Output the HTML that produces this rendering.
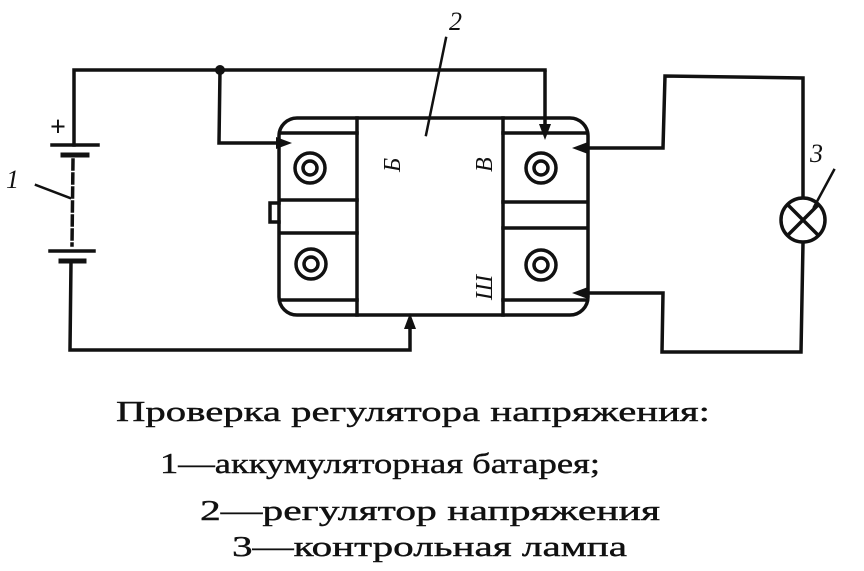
<!DOCTYPE html>
<html><head><meta charset="utf-8"><style>body{margin:0;background:#fff}svg{display:block}</style></head><body>
<svg width="864" height="571" viewBox="0 0 864 571" xmlns="http://www.w3.org/2000/svg">
<g fill="none" stroke="#111" stroke-width="3.5" stroke-linecap="square">
<polyline points="545,70 74,70 74,145"/>
<line x1="52" y1="145" x2="98" y2="145"/>
<line x1="63" y1="155" x2="87" y2="155" stroke-width="5"/>
<line x1="73" y1="160" x2="72" y2="245" stroke-dasharray="9,5"/>
<line x1="50" y1="251" x2="94" y2="251"/>
<line x1="61" y1="261" x2="84" y2="261" stroke-width="5"/>
<polyline points="71,262 70,350 410,350 410,325"/>
<polyline points="220,70 219,143 280,143"/>
<line x1="545" y1="72" x2="545" y2="128"/>
<polyline points="590,148 663,148 665,76 803,78 803,197"/>
<polyline points="803,243 801,352 662,352 663,293 590,293"/>
<circle cx="803" cy="220" r="22"/>
<line x1="788" y1="205" x2="818" y2="235"/>
<line x1="818" y1="205" x2="788" y2="235"/>
<line x1="814" y1="207" x2="834" y2="170" stroke-width="2.5"/>
<line x1="36" y1="185" x2="70" y2="198" stroke-width="2.5"/>
<line x1="446" y1="38" x2="426" y2="135" stroke-width="2.5"/>
<rect x="279" y="118" width="309" height="197" rx="18"/>
<line x1="357" y1="118" x2="357" y2="315"/>
<line x1="503" y1="118" x2="503" y2="315"/>
<line x1="281" y1="133" x2="357" y2="133"/>
<line x1="281" y1="200" x2="357" y2="200"/>
<line x1="281" y1="233" x2="357" y2="233"/>
<line x1="281" y1="300" x2="357" y2="300"/>
<line x1="503" y1="133" x2="586" y2="133"/>
<line x1="503" y1="202" x2="586" y2="202"/>
<line x1="503" y1="228" x2="586" y2="228"/>
<line x1="503" y1="300" x2="586" y2="300"/>
<path d="M279,203 H270 V222 H279"/>
<circle cx="310" cy="168" r="15"/><circle cx="310" cy="168" r="7"/>
<circle cx="311" cy="264" r="15"/><circle cx="311" cy="264" r="7"/>
<circle cx="541" cy="168" r="15"/><circle cx="541" cy="168" r="7"/>
<circle cx="541" cy="265" r="15"/><circle cx="541" cy="265" r="7"/>
</g>
<g fill="#111">
<polygon points="292,143 276,137 276,149"/>
<polygon points="545,140 539,124 551,124"/>
<polygon points="572,148 588,142 588,154"/>
<polygon points="572,293 588,287 588,299"/>
<polygon points="410,313 404,329 416,329"/>
<circle cx="220" cy="70" r="5"/>
</g>
<g font-family="Liberation Serif, serif" font-style="italic" font-size="26" fill="#111">
<text x="6" y="188">1</text>
<text x="449" y="30">2</text>
<text x="810" y="162">3</text>
<text x="50" y="136" font-style="normal" font-size="28" font-weight="bold">+</text>
<text transform="translate(400,172) rotate(-90)" font-size="24">Б</text>
<text transform="translate(492,172) rotate(-90)" font-size="24">В</text>
<text transform="translate(492,300) rotate(-90)" font-size="24">Ш</text>
</g>
<g font-family="Liberation Serif, serif" font-size="29" fill="#111" stroke="#111" stroke-width="0.4">
<text x="116" y="421" textLength="594" lengthAdjust="spacingAndGlyphs">Проверка регулятора напряжения:</text>
<text x="160" y="473" textLength="440" lengthAdjust="spacingAndGlyphs">1—аккумуляторная  батарея;</text>
<text x="200" y="520" textLength="460" lengthAdjust="spacingAndGlyphs">2—регулятор  напряжения</text>
<text x="232" y="556" textLength="395" lengthAdjust="spacingAndGlyphs">3—контрольная лампа</text>
</g>
</svg>
</body></html>
